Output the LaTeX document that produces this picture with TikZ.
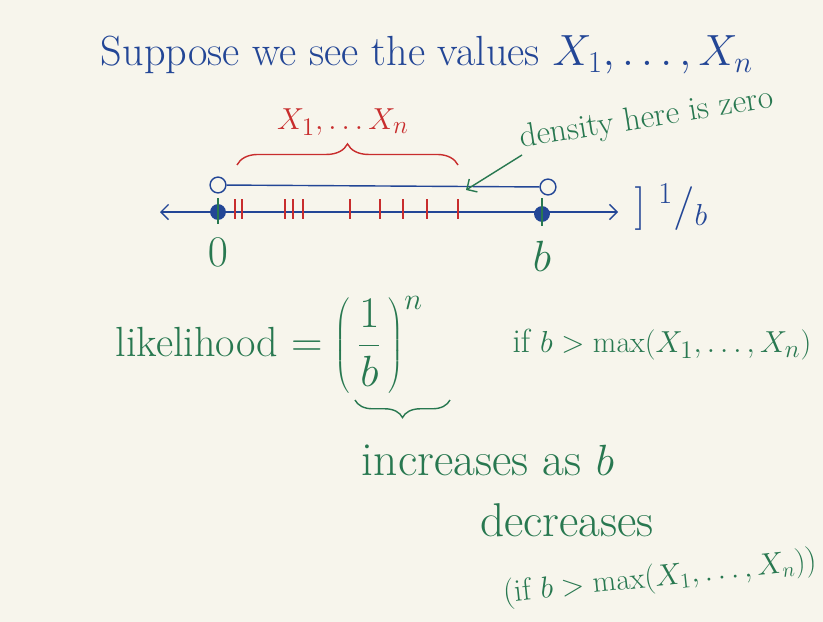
\documentclass[tikz,border=0pt]{standalone}
\usepackage{tikz}
\usetikzlibrary{arrows, arrows.meta}
\usetikzlibrary{decorations.pathreplacing}
\definecolor{inkblue}{RGB}{35,70,150}
\definecolor{inkgreen}{RGB}{40,120,80}
\definecolor{inkred}{RGB}{200,45,45}
\definecolor{paper}{RGB}{247,245,236}

\begin{document}
\begin{tikzpicture}[x=0.02cm,y=-0.02cm]
\fill[paper] (0,0) rectangle (823,622);
\useasboundingbox (0,0) rectangle (823,622);
\begin{scope}[>={Straight Barb[scale=1.4]}, thick,
  hand/.style={font=\fontsize{24}{28}\selectfont, inner sep=0pt},
  smallhand/.style={font=\fontsize{19}{23}\selectfont, inner sep=0pt},
  opendot/.style={draw=inkblue, fill=paper, circle, inner sep=0pt, minimum size=9pt},
  fulldot/.style={fill=inkblue, circle, inner sep=0pt, minimum size=9pt}]

% title
\node[hand, inkblue] (title) at (427,55) {Suppose we see the values $X_1,\ldots,X_n$};

% number line
\coordinate (L) at (160,212);
\coordinate (R) at (618,212);
\draw[inkblue, <->] (L) -- (R);
\node[fulldot] (zero) at (218,212) {};
\node[fulldot] (bee) at (542,214) {};
\draw[inkgreen] (218,198) -- (218,224);
\draw[inkgreen] (542,198) -- (542,226);
\node[hand, inkgreen] (zerolab) at (218,252) {$0$};
\node[hand, inkgreen] (beelab) at (542,256) {$b$};

% density 1/b
\node[opendot] (lo) at (218,185) {};
\node[opendot] (hi) at (548,187) {};
\draw[inkblue] (lo) -- (hi);
\node[hand, inkblue, anchor=west] (height) at (634,207) {$]\ {}^1/{}_b$};

% the observed values
\foreach \x in {235,242,285,293,303,350,380,403,427,458}
  \draw[inkred] (\x,199) -- (\x,219);
\draw[inkred, decorate, decoration={brace, amplitude=12pt}] (237,165) -- (458,165);
\node[smallhand, inkred] (xs) at (343,122) {$X_1,\ldots X_n$};

% zero density
\node[smallhand, inkgreen, rotate=9, anchor=south west] (dens) at (522,155) {density here is zero};
\coordinate (hit) at (466,190);
\draw[inkgreen, ->] (dens.south west) -- (hit);

% likelihood
\node[hand, inkgreen, anchor=west] (lik) at (115,345) {likelihood $=\left(\,\displaystyle\frac{1}{b}\,\right)^{n}$};
\node[smallhand, inkgreen, anchor=east] (cond) at (812,345) {if $b>\max(X_1,\ldots,X_n)$};
\draw[inkgreen, decorate, decoration={brace, amplitude=10pt, mirror}] (355,400) -- (450,400);

\node[font=\fontsize{27}{31}\selectfont, inner sep=0pt, inkgreen] (incr) at (488,460) {increases as $b$};
\node[font=\fontsize{27}{31}\selectfont, inner sep=0pt, inkgreen] (decr) at (567,520) {decreases};
\node[font=\fontsize{18}{22}\selectfont, inner sep=0pt, inkgreen, rotate=6] (cond2) at (660,578) {(if $b>\max(X_1,\ldots,X_n)$)};

\end{scope}
\end{tikzpicture}
\end{document}
